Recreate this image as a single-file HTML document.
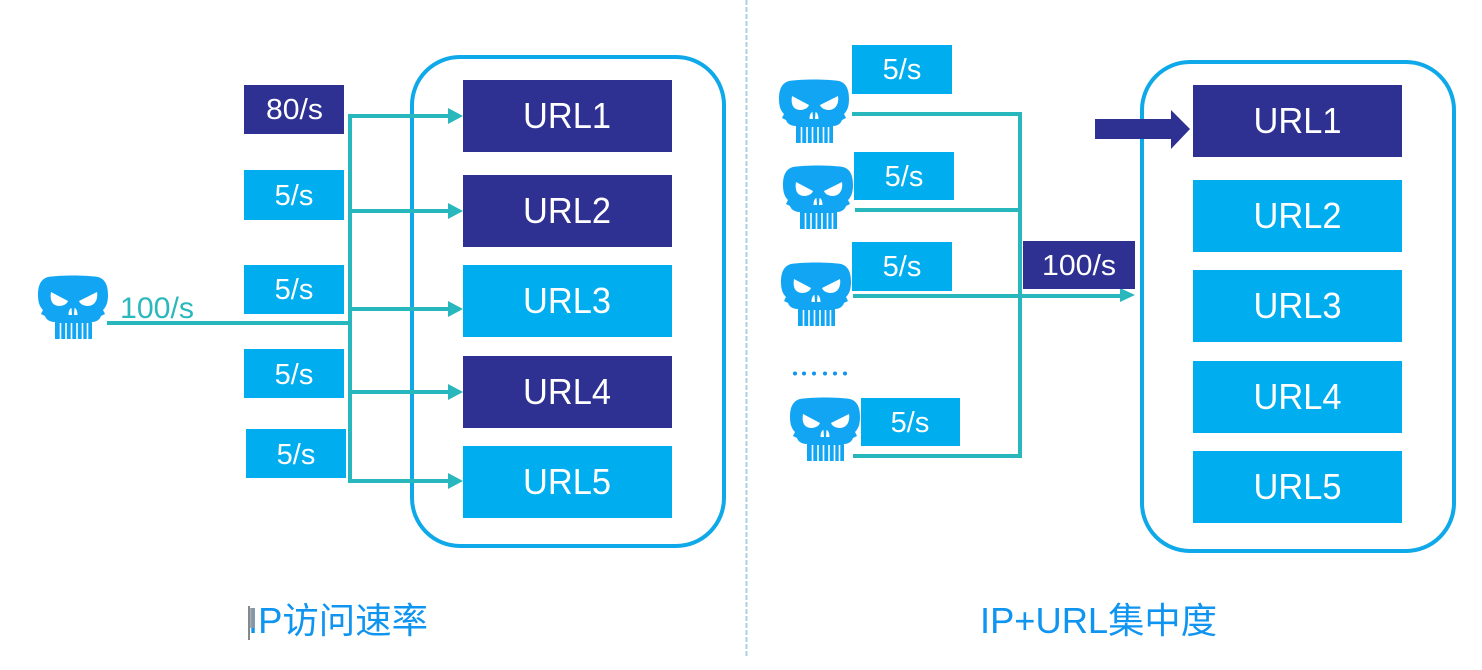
<!DOCTYPE html>
<html><head><meta charset="utf-8">
<style>
html,body{margin:0;padding:0;background:#fff;width:1482px;height:670px;overflow:hidden}
svg{display:block}
text{font-family:"Liberation Sans","Noto Sans CJK SC",sans-serif}
.w{fill:#fff;font-size:29px;text-anchor:middle}
.u{fill:#fff;font-size:36px;text-anchor:middle}
.t{fill:#0f94f0;font-size:36px;text-anchor:middle}
</style></head><body>
<svg width="1482" height="670" viewBox="0 0 1482 670" xmlns="http://www.w3.org/2000/svg">
<defs>
<g id="sk">
<path d="M10 1 C22 -1 48 -1 60 1 C67 3 70 9 70 19 C70 27 68 31 65 34 L67 38 L63 40 C62 43 59 46 54 46 L54 63 L17 63 L17 46 C11 46 8 43 7 40 L3 38 L5 34 C2 31 0 27 0 19 C0 9 3 3 10 1Z" fill="#12a5f4"/>
<path d="M13 16 L30 25 C28 30 21 31 17 29 C13 27 12 22 13 16Z M59 16 L41 25 C43 30 50 31 54 29 C58 27 60 22 59 16Z" fill="#fff"/>
<path d="M30.500 39 C30.500 34 32.500 32 33.500 32 L34 39Z M39.500 39 C39.500 34 37.500 32 36.500 32 L36 39Z" fill="#fff"/>
<path d="M22.500 47V64M28 47V64M33.500 47V64M39 47V64M44.500 47V64M49.500 47V64" stroke="#fff" stroke-width="1.600" fill="none"/>
</g>
</defs>

<line x1="746.500" y1="0" x2="746.500" y2="656" stroke="#a9d3de" stroke-width="2" stroke-dasharray="5 2"/>

<!-- left container -->
<rect x="412" y="57" width="312" height="489" rx="48" fill="none" stroke="#0fa9ea" stroke-width="4"/>

<rect x="463" y="80" width="209" height="72" fill="#2e3192"/>
<rect x="463" y="175" width="209" height="72" fill="#2e3192"/>
<rect x="463" y="265" width="209" height="72" fill="#00aeef"/>
<rect x="463" y="356" width="209" height="72" fill="#2e3192"/>
<rect x="463" y="446" width="209" height="72" fill="#00aeef"/>
<text class="u" x="567" y="128" textLength="88" lengthAdjust="spacingAndGlyphs">URL1</text>
<text class="u" x="567" y="223" textLength="88" lengthAdjust="spacingAndGlyphs">URL2</text>
<text class="u" x="567" y="313" textLength="88" lengthAdjust="spacingAndGlyphs">URL3</text>
<text class="u" x="567" y="404" textLength="88" lengthAdjust="spacingAndGlyphs">URL4</text>
<text class="u" x="567" y="494" textLength="88" lengthAdjust="spacingAndGlyphs">URL5</text>

<rect x="244" y="85" width="100" height="49" fill="#2e3192"/>
<rect x="244" y="170" width="100" height="50" fill="#00aeef"/>
<rect x="244" y="265" width="100" height="49" fill="#00aeef"/>
<rect x="244" y="349" width="100" height="49" fill="#00aeef"/>
<rect x="246" y="429" width="100" height="49" fill="#00aeef"/>
<text class="w" x="294.500" y="119" textLength="57" lengthAdjust="spacingAndGlyphs">80/s</text>
<text class="w" x="294" y="205">5/s</text>
<text class="w" x="294" y="299">5/s</text>
<text class="w" x="294" y="384">5/s</text>
<text class="w" x="296" y="464">5/s</text>

<use href="#sk" x="38" y="276"/>
<text x="120" y="318" fill="#2bb8bd" font-size="30" textLength="74" lengthAdjust="spacingAndGlyphs">100/s</text>

<g stroke="#27b7bd" stroke-width="4" fill="none">
<line x1="107" y1="323" x2="350" y2="323"/>
<line x1="350" y1="114" x2="350" y2="483"/>
<line x1="348" y1="116" x2="450" y2="116"/>
<line x1="350" y1="211" x2="450" y2="211"/>
<line x1="350" y1="309" x2="450" y2="309"/>
<line x1="350" y1="392" x2="450" y2="392"/>
<line x1="348" y1="481" x2="450" y2="481"/>
</g>
<g fill="#27b7bd">
<path d="M448 108L463 116L448 124Z"/>
<path d="M448 203L463 211L448 219Z"/>
<path d="M448 301L463 309L448 317Z"/>
<path d="M448 384L463 392L448 400Z"/>
<path d="M448 473L463 481L448 489Z"/>
</g>

<!-- right container -->
<rect x="1142" y="62" width="312" height="489" rx="48" fill="none" stroke="#0fa9ea" stroke-width="4"/>

<rect x="1193" y="85" width="209" height="72" fill="#2e3192"/>
<rect x="1193" y="180" width="209" height="72" fill="#00aeef"/>
<rect x="1193" y="270" width="209" height="72" fill="#00aeef"/>
<rect x="1193" y="361" width="209" height="72" fill="#00aeef"/>
<rect x="1193" y="451" width="209" height="72" fill="#00aeef"/>
<text class="u" x="1297.500" y="133" textLength="88" lengthAdjust="spacingAndGlyphs">URL1</text>
<text class="u" x="1297.500" y="228" textLength="88" lengthAdjust="spacingAndGlyphs">URL2</text>
<text class="u" x="1297.500" y="318" textLength="88" lengthAdjust="spacingAndGlyphs">URL3</text>
<text class="u" x="1297.500" y="409" textLength="88" lengthAdjust="spacingAndGlyphs">URL4</text>
<text class="u" x="1297.500" y="499" textLength="88" lengthAdjust="spacingAndGlyphs">URL5</text>

<path d="M1095 119H1171V110L1190 129L1171 149V139H1095Z" fill="#2e3192"/>

<use href="#sk" x="779" y="80"/>
<use href="#sk" x="783" y="166"/>
<use href="#sk" x="781" y="263"/>
<use href="#sk" x="790" y="398"/>

<g stroke="#27b7bd" stroke-width="4" fill="none">
<line x1="852" y1="114" x2="1021" y2="114"/>
<line x1="1020" y1="112" x2="1020" y2="458"/>
<line x1="855" y1="210" x2="1020" y2="210"/>
<line x1="853" y1="296" x2="1122" y2="296"/>
<line x1="853" y1="456" x2="1021" y2="456"/>
</g>
<path d="M1120 288L1135 295L1120 302Z" fill="#27b7bd"/>

<rect x="852" y="45" width="100" height="49" fill="#00aeef"/>
<rect x="854" y="152" width="100" height="48" fill="#00aeef"/>
<rect x="852" y="242" width="100" height="49" fill="#00aeef"/>
<rect x="861" y="398" width="99" height="48" fill="#00aeef"/>
<rect x="1023" y="241" width="112" height="48" fill="#2e3192"/>
<text class="w" x="902" y="79">5/s</text>
<text class="w" x="904" y="186">5/s</text>
<text class="w" x="902" y="276">5/s</text>
<text class="w" x="910" y="432">5/s</text>
<text class="w" x="1079" y="275" textLength="74" lengthAdjust="spacingAndGlyphs">100/s</text>

<g fill="#0f94f0">
<circle cx="795" cy="373.500" r="2"/><circle cx="804" cy="373.500" r="2"/><circle cx="814" cy="373.500" r="2"/><circle cx="825" cy="373.500" r="2"/><circle cx="835" cy="373.500" r="2"/><circle cx="845" cy="373.500" r="2"/>
</g>

<text class="t" x="338" y="633" textLength="180" lengthAdjust="spacingAndGlyphs">IP访问速率</text>
<text class="t" x="1098.500" y="633" textLength="237" lengthAdjust="spacingAndGlyphs">IP+URL集中度</text>

<!-- text cursor -->
<path d="M249 606V640" stroke="#111" stroke-width="1"/>
<rect x="250" y="608" width="5" height="20" fill="#999" opacity=".8"/>
</svg>
</body></html>
